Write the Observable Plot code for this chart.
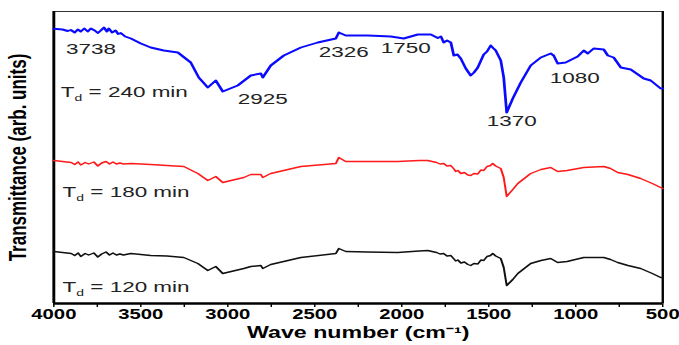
<!DOCTYPE html>
<html><head><meta charset="utf-8">
<script src="https://cdn.jsdelivr.net/npm/d3@7"></script>
<script src="https://cdn.jsdelivr.net/npm/@observablehq/plot@0.6"></script>
<style>body{margin:0;background:#fff;} #chart svg{display:block}</style>
</head><body><div id="chart"></div>
<script>
// Wave number axis
const xDomain = [4000, 500];
const xTicks = [4000,3750,3500,3250,3000,2750,2500,2250,2000,1750,1500,1250,1000,750,500];
const yDomain = [0, 292];

// Spectra: [wave number, transmittance (arb. units)]
const t240 = [[4000,274.7],[3950,274],[3920,272.5],[3902,273.5],[3880,271],[3862,274],[3845,272],[3825,275],[3805,272],[3787,275],[3765,273],[3747,270.5],[3730,273],[3712,276],[3695,272],[3684,275],[3665,271],[3645,273],[3630,269.5],[3615,270.5],[3590,267],[3557,265],[3500,260],[3443,256],[3368,253],[3287,251],[3213,241],[3167,226],[3115,216],[3069,223],[3029,212],[2943,218],[2868,228],[2810,230],[2799,226],[2753,238],[2678,248],[2580,256],[2483,261],[2379,265],[2362,271],[2322,268],[2195,268],[2063,267],[1989,265],[1908,269],[1833,269],[1793,265.5],[1775,267],[1759,261],[1740,263],[1718,261],[1701,248],[1680,249],[1661,245],[1632,235],[1604,228],[1585,231],[1563,236],[1545,243],[1529,249],[1510,252],[1489,258],[1475,255.5],[1460,253],[1431,243],[1414,226],[1397,191],[1362,205],[1316,221],[1259,238],[1201,246],[1144,250],[1127,248],[1104,240],[1058,241],[989,247],[954,253],[931,250],[897,255],[839,254],[816,248],[782,246],[741,236],[684,234],[609,225],[569,223],[512,215],[500,215]];
const t180 = [[4000,143],[3950,142],[3900,141],[3880,139],[3860,141.5],[3845,138.5],[3820,141],[3800,139.5],[3770,141.5],[3747,137.5],[3725,140.5],[3700,142],[3680,139.5],[3660,141.5],[3640,139.5],[3620,140.5],[3600,139.5],[3557,140],[3443,139],[3350,138],[3253,137],[3172,130],[3115,123],[3069,127],[3029,121],[2908,126],[2868,129],[2810,129],[2799,126],[2753,130],[2580,137],[2379,140],[2362,146],[2322,142],[2200,142],[2023,142],[1900,143],[1851,143],[1800,141],[1780,139.5],[1760,140],[1740,137.5],[1718,138],[1700,134.5],[1690,132],[1678,133],[1660,130],[1640,131],[1620,128.5],[1604,128],[1585,130],[1563,129.5],[1545,133.5],[1529,133],[1510,137],[1490,138],[1477,140],[1460,137.5],[1431,135],[1414,126],[1397,107],[1362,114],[1333,120],[1259,130],[1200,134],[1144,136],[1104,132],[1050,133],[954,136],[839,137],[800,135],[759,131],[700,129],[627,125],[560,120],[512,116],[500,115]];
const t120 = [[4000,52],[3950,51],[3900,50],[3880,48],[3860,50.5],[3845,47],[3820,50],[3800,48.5],[3770,50.5],[3747,46.5],[3725,49.5],[3700,51.5],[3680,48.5],[3660,50.5],[3640,48.5],[3620,49.5],[3600,48.5],[3557,50],[3443,48],[3350,47.5],[3253,46],[3172,40],[3115,33],[3069,37],[3029,30],[2908,35],[2868,37],[2810,38],[2799,35],[2753,39],[2580,46],[2379,50],[2362,55],[2322,52],[2200,51.5],[2023,51],[1900,52.5],[1851,53],[1800,51],[1780,49.5],[1760,50],[1740,47.5],[1718,48],[1700,44.5],[1690,42.5],[1678,43.5],[1660,40.5],[1640,41.5],[1620,39],[1604,38],[1585,40],[1563,39.5],[1545,43.5],[1529,43],[1510,47],[1490,48],[1477,50],[1460,47.5],[1431,45],[1414,36],[1397,18],[1362,24],[1333,30],[1259,40],[1200,43],[1144,45],[1104,41],[1050,42],[954,46],[839,46],[800,44],[759,41],[700,38],[627,35],[560,30],[512,26],[500,26]];

// Annotations: [text, wave number, level]
const peakLabels = [["3738",3787,254],["2925",2799,204],["2326",2333,251],["1750",1977,255.7],["1370",1368,182],["1080",1006,225.7]];
const seriesLabels = [["T_d = 240 min",3960,211],["T_d = 180 min",3950,111],["T_d = 120 min",3950,16]];
const xLabel = "Wave number (cm\u207B\u00B9)";
const yLabel = "Transmittance (arb. units)";

const W = 468, H = 345;
const svg = Plot.plot({
  width: W, height: H,
  marginLeft: 36.6, marginRight: 11.7, marginTop: 11, marginBottom: 42,
  style: {fontFamily: "'Liberation Sans', Arial, sans-serif", fontSize: "14px", fontWeight: "bold", background: "white", color: "black"},
  x: {domain: xDomain, ticks: xTicks, tickFormat: d => d % 500 === 0 ? String(d) : "", tickSize: 4, tickPadding: 2, label: null},
  y: {domain: yDomain, axis: null},
  marks: [
    Plot.frame({stroke: "#333", strokeWidth: 1}),
    Plot.ruleX([xDomain[0]], {stroke: "black", strokeWidth: 2}),
    Plot.ruleX([xDomain[1]], {stroke: "black", strokeWidth: 1.6}),
    Plot.ruleY([yDomain[0]], {stroke: "black", strokeWidth: 2.4}),
    Plot.line(t120, {x: d => d[0], y: d => d[1], stroke: "#111", strokeWidth: 1.4}),
    Plot.line(t180, {x: d => d[0], y: d => d[1], stroke: "#ff1a1a", strokeWidth: 1.4}),
    Plot.line(t240, {x: d => d[0], y: d => d[1], stroke: "#0a0aff", strokeWidth: 1.9}),
    Plot.text(peakLabels, {x: d => d[1], y: d => d[2], text: d => d[0], fontSize: 15.5, fontWeight: "normal", fill: "#222"}),
    Plot.text(seriesLabels, {x: d => d[1], y: d => d[2], text: d => d[0], textAnchor: "start", fontSize: 15.5, fontWeight: "normal", fill: "#222"}),
    Plot.text([xLabel], {frameAnchor: "bottom", dy: 34, text: d => d, fontSize: 16, fontWeight: "bold"}),
    Plot.text([yLabel], {frameAnchor: "left", textAnchor: "middle", dx: -24.5, rotate: -90, text: d => d, fontSize: 17, fontWeight: "bold"})
  ]
});

// subscript d in T_d labels
d3.select(svg).selectAll("text").each(function() {
  const t = this.textContent;
  if (t.startsWith("T_d")) {
    const sel = d3.select(this);
    sel.text(null);
    sel.append("tspan").text("T");
    sel.append("tspan").attr("font-size", "0.62em").attr("dy", "0.35em").text("d");
    sel.append("tspan").attr("dy", "-0.22em").text(t.slice(3));
  }
});

// the reference picture is stretched horizontally
svg.setAttribute("width", 679);
svg.setAttribute("height", H);
svg.setAttribute("viewBox", `0 0 ${W} ${H}`);
svg.setAttribute("preserveAspectRatio", "none");
svg.style.width = "679px";
svg.style.height = H + "px";
svg.style.maxWidth = "none";
document.getElementById("chart").appendChild(svg);
</script>
</body></html>
